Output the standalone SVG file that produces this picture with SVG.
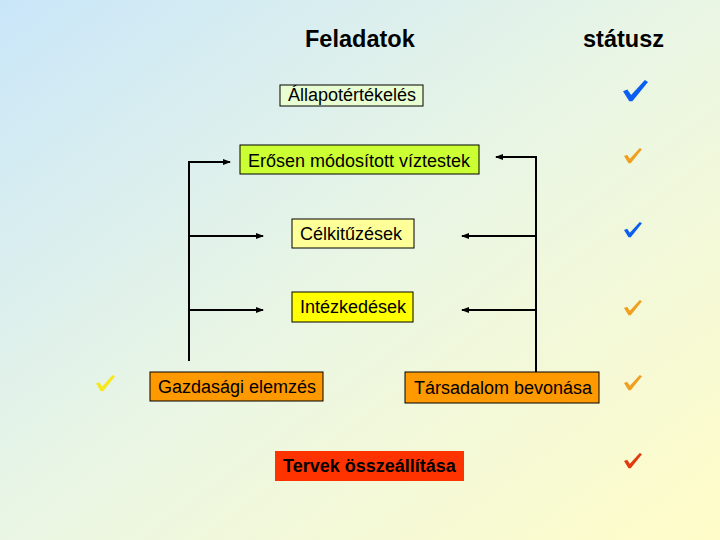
<svg xmlns="http://www.w3.org/2000/svg" xmlns:xlink="http://www.w3.org/1999/xlink" width="720" height="540" viewBox="0 0 720 540">
<defs>
<linearGradient id="bg" x1="0" y1="0" x2="1" y2="1">
<stop offset="0" stop-color="#c9e6f9"/>
<stop offset="0.5" stop-color="#eaf6e4"/>
<stop offset="1" stop-color="#fffcc8"/>
</linearGradient>
<marker id="ah" markerWidth="8" markerHeight="6" refX="7" refY="3" orient="auto" markerUnits="userSpaceOnUse">
<path d="M0,0 L8,3 L0,6 Z" fill="#000"/>
</marker>
<path id="chk" d="M0,9 L3.5,7.5 L6.5,12 L17.5,0 L20,1.5 L7.5,17 L5,17 Z"/>
</defs>
<style>
.box{stroke:#000;stroke-width:1}
.t{font-family:"Liberation Sans",Arial,sans-serif;font-size:18px;fill:#000}
.h{font-family:"Liberation Sans",Arial,sans-serif;font-size:23.5px;font-weight:bold;fill:#000}
.c{fill:none;stroke:#000;stroke-width:2}
</style>
<rect width="720" height="540" fill="url(#bg)"/>
<text class="h" x="305" y="47">Feladatok</text>
<text class="h" x="583" y="47">státusz</text>
<g id="connectors">
<polyline class="c" points="189,361 189,162 230,162" marker-end="url(#ah)"/>
<line class="c" x1="189" y1="236" x2="263" y2="236" marker-end="url(#ah)"/>
<line class="c" x1="189" y1="310" x2="263" y2="310" marker-end="url(#ah)"/>
<polyline class="c" points="536,372 536,157 496,157" marker-end="url(#ah)"/>
<line class="c" x1="536" y1="236" x2="462" y2="236" marker-end="url(#ah)"/>
<line class="c" x1="536" y1="310" x2="462" y2="310" marker-end="url(#ah)"/>
</g>
<g id="allapot">
<rect class="box" x="280" y="85" width="143" height="21" fill="#e9fdd2"/>
<text class="t" x="288" y="101">Állapotértékelés</text>
</g>
<g id="eros">
<rect class="box" x="240" y="145" width="239" height="29" fill="#ccff33"/>
<text class="t" x="248" y="167">Erősen módosított víztestek</text>
</g>
<g id="celkituzesek">
<rect class="box" x="292" y="219" width="122" height="29" fill="#ffff99"/>
<text class="t" x="300" y="240">Célkitűzések</text>
</g>
<g id="intezkedesek">
<rect class="box" x="292" y="292" width="121" height="30" fill="#ffff00"/>
<text class="t" x="300" y="313">Intézkedések</text>
</g>
<g id="gazdasagi">
<rect class="box" x="150" y="372" width="173" height="29" fill="#ff9900"/>
<text class="t" x="158" y="393">Gazdasági elemzés</text>
</g>
<g id="tarsadalom">
<rect class="box" x="405" y="372" width="194" height="31" fill="#ff9900"/>
<text class="t" x="414" y="394" fill="#1a0a00">Társadalom bevonása</text>
</g>
<g id="tervek">
<rect x="275" y="451" width="189" height="30" fill="#ff3300"/>
<text class="t" x="283" y="472" font-weight="bold" fill="#1a0000">Tervek összeállítása</text>
</g>
<g id="status">
<use xlink:href="#chk" transform="translate(623,80) scale(1.25)" fill="#0a5ef0"/>
<use xlink:href="#chk" transform="translate(624,148) scale(0.9)" fill="#f0a020"/>
<use xlink:href="#chk" transform="translate(624,222) scale(0.9)" fill="#0a5ef0"/>
<use xlink:href="#chk" transform="translate(624,300) scale(0.9)" fill="#f0a020"/>
<use xlink:href="#chk" transform="translate(624,375) scale(0.9)" fill="#f0a020"/>
<use xlink:href="#chk" transform="translate(624,453) scale(0.9)" fill="#e03a10"/>
<use xlink:href="#chk" transform="translate(96,375) scale(0.95)" fill="#f5e820"/>
</g>
</svg>
